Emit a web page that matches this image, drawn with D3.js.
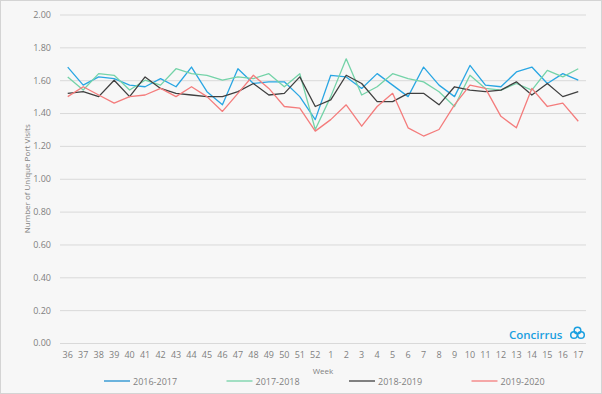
<!DOCTYPE html>
<html>
<head>
<meta charset="utf-8">
<script src="https://cdn.jsdelivr.net/npm/d3@7"></script>
<style>
  body { margin: 0; background: #fff; }
  text { font-family: "Open Sans", "DejaVu Sans", sans-serif; }
</style>
</head>
<body>
<div id="chart"></div>
<script>
// chart data

var weeks = ["36","37","38","39","40","41","42","43","44","45","46","47","48","49","50","51","52",
             "1","2","3","4","5","6","7","8","9","10","11","12","13","14","15","16","17"];

var s2016 = [1.68,1.57,1.62,1.61,1.57,1.56,1.61,1.56,1.68,1.53,1.45,1.67,1.58,1.59,1.59,1.50,1.36,
             1.63,1.62,1.55,1.64,1.57,1.50,1.68,1.57,1.50,1.69,1.57,1.56,1.65,1.68,1.58,1.64,1.60];
var s2017 = [1.62,1.54,1.64,1.63,1.54,1.60,1.57,1.67,1.64,1.63,1.60,1.62,1.61,1.64,1.56,1.64,1.30,
             1.50,1.73,1.51,1.56,1.64,1.61,1.59,1.53,1.44,1.63,1.55,1.54,1.58,1.54,1.66,1.62,1.67];
var s2018 = [1.52,1.53,1.50,1.60,1.50,1.62,1.55,1.52,1.51,1.50,1.50,1.53,1.58,1.51,1.52,1.62,1.44,
             1.48,1.63,1.58,1.47,1.47,1.52,1.52,1.45,1.56,1.54,1.53,1.54,1.59,1.51,1.58,1.50,1.53];
var s2019 = [1.50,1.56,1.51,1.46,1.50,1.51,1.55,1.50,1.56,1.50,1.41,1.52,1.63,1.55,1.44,1.43,1.29,
             1.36,1.45,1.32,1.44,1.52,1.31,1.26,1.30,1.45,1.57,1.55,1.38,1.31,1.55,1.44,1.46,1.35];

var seriesNames = ["2016-2017", "2017-2018", "2018-2019", "2019-2020"];
var seriesColors = ["#29a6e3", "#74d3a8", "#404040", "#f47c7c"];
var yTicks = [0, 0.2, 0.4, 0.6, 0.8, 1.0, 1.2, 1.4, 1.6, 1.8, 2.0];

var w = 602,
    h = 394,
    svg = d3.select("#chart")
            .append("svg")
            .attr("width", w)
            .attr("height", h),
    x = d3.scaleBand().domain(weeks).range([60, 586]),
    y = d3.scaleLinear().domain([0, 2]).range([343, 14.5]);

var series = [s2016, s2017, s2018, s2019];

// background and frame
svg.append("rect")
    .attr("x", 0.5).attr("y", 0.5)
    .attr("width", w - 1).attr("height", h - 1)
    .attr("fill", "#f7f7f7")
    .attr("stroke", "#d4d4d4");

// gridlines and y labels
var yAxis = svg.append("g")
    .attr("transform", "translate(60,0)")
    .call(d3.axisLeft(y).tickValues(yTicks).tickFormat(d3.format(".2f"))
            .tickSize(-(586 - 60)).tickPadding(9));
yAxis.select(".domain").remove();
yAxis.selectAll("line").attr("stroke", "#d9d9d9");
yAxis.selectAll("text").attr("fill", "#7f7f7f").attr("font-size", "9px")
    .style("font-family", "'Open Sans', sans-serif");

// x labels
var xAxis = svg.append("g")
    .attr("transform", "translate(0,343)")
    .call(d3.axisBottom(x).tickSize(0).tickPadding(9));
xAxis.select(".domain").remove();
xAxis.selectAll("text").attr("fill", "#7f7f7f").attr("font-size", "9px")
    .style("font-family", "'Open Sans', sans-serif");

// axis titles
svg.append("text")
    .attr("transform", "translate(30," + ((14.5 + 343) / 2) + ") rotate(-90)")
    .attr("text-anchor", "middle")
    .attr("font-size", "8px")
    .attr("fill", "#7f7f7f")
    .text("Number of Unique Port Visits");

svg.append("text")
    .attr("x", 323).attr("y", 374)
    .attr("text-anchor", "middle")
    .attr("font-size", "8px")
    .attr("fill", "#7f7f7f")
    .text("Week");

// data lines
var line = d3.line()
    .x(function(d, i) { return x(weeks[i]) + x.bandwidth() / 2; })
    .y(function(d) { return y(d); });

series.forEach(function(s, k) {
    svg.append("path")
        .datum(s)
        .attr("fill", "none")
        .attr("stroke", seriesColors[k])
        .attr("stroke-width", 1.3)
        .attr("stroke-linejoin", "round")
        .attr("d", line);
});

// legend
seriesNames.forEach(function(name, k) {
    var lx = 104 + k * 122.5;
    svg.append("line")
        .attr("x1", lx).attr("x2", lx + 26)
        .attr("y1", 381).attr("y2", 381)
        .attr("stroke", k == 0 ? "#1f8fd0" : seriesColors[k])
        .attr("stroke-width", 1.3);
    svg.append("text")
        .attr("x", lx + 29).attr("y", 384.5)
        .attr("font-size", "9px")
        .attr("fill", "#7f7f7f")
        .text(name);
});

// Concirrus logo
svg.append("text")
    .attr("x", 509).attr("y", 339)
    .attr("font-size", "11.5px")
    .attr("font-weight", 600)
    .attr("fill", "#1a9fe0")
    .style("font-family", "'Open Sans', sans-serif")
    .text("Concirrus");
var logo = svg.append("g").attr("fill", "none").attr("stroke", "#1a9fe0").attr("stroke-width", 1.5);
logo.append("circle").attr("cx", 574).attr("cy", 335).attr("r", 3.3);
logo.append("circle").attr("cx", 581).attr("cy", 335).attr("r", 3.3);
logo.append("circle").attr("cx", 577.5).attr("cy", 330.5).attr("r", 3.3);
</script>
</body>
</html>
